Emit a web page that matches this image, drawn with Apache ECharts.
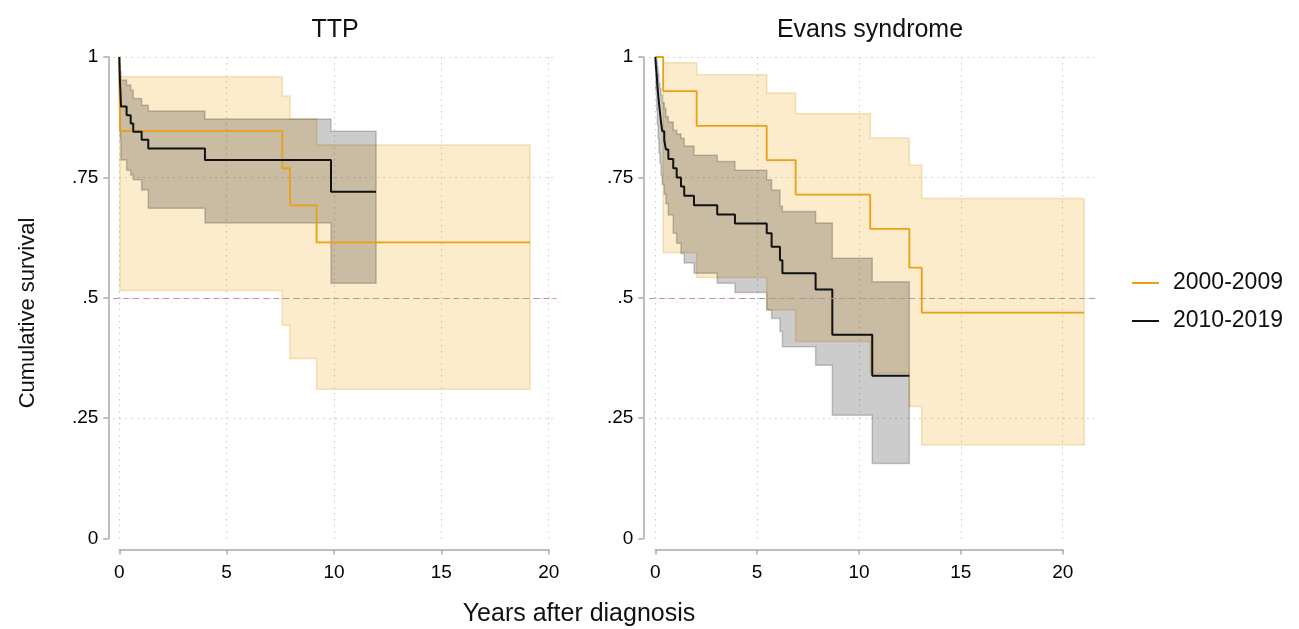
<!DOCTYPE html>
<html>
<head>
<meta charset="utf-8">
<script src="https://cdn.jsdelivr.net/npm/echarts@6/dist/echarts.min.js"></script>
<style>
  html, body { margin: 0; padding: 0; background: #fff; }
  #chart { width: 1299px; height: 629px; }
</style>
</head>
<body>
<div id="chart"></div>
<script>
const panelTitles = ['TTP', 'Evans syndrome'];
const seriesNames = ['2000-2009', '2010-2019'];
const xTicks = [0, 5, 10, 15, 20];
const yTicks = [0, 0.25, 0.5, 0.75, 1];
const yTickLabels = ['0', '.25', '.5', '.75', '1'];
const refLine = 0.5;

// Kaplan-Meier steps: [years, survival]
const ttpEarly = [[0, 1], [0.03, 0.846], [7.59, 0.769], [7.95, 0.692], [9.19, 0.615], [19.13, 0.615]];
const ttpLate = [[0, 1], [0.01, 0.983], [0.02, 0.966], [0.03, 0.948], [0.05, 0.931], [0.08, 0.897],
  [0.34, 0.879], [0.53, 0.862], [0.65, 0.845], [1.04, 0.828], [1.35, 0.810], [3.99, 0.786],
  [9.86, 0.72], [11.96, 0.72]];
const evansEarly = [[0, 1], [0.39, 0.929], [2.03, 0.857], [5.47, 0.786], [6.89, 0.714],
  [10.55, 0.643], [12.47, 0.5625], [13.08, 0.469], [21.05, 0.469]];
const evansLate = [[0, 1], [0.03, 0.981], [0.07, 0.962], [0.10, 0.942], [0.14, 0.923], [0.18, 0.904],
  [0.23, 0.885], [0.28, 0.865], [0.34, 0.846], [0.44, 0.827], [0.52, 0.808], [0.64, 0.788],
  [0.88, 0.769], [1.05, 0.75], [1.26, 0.731], [1.42, 0.712], [1.90, 0.692], [3.04, 0.673],
  [3.91, 0.654], [5.47, 0.634], [5.71, 0.606], [6.12, 0.578], [6.24, 0.551], [7.87, 0.517],
  [8.69, 0.423], [10.65, 0.338], [12.47, 0.338]];

// confidence bands: [years, lower, upper]
const ttpEarlyCI = [[0, 1, 1], [0.03, 0.515, 0.959], [7.59, 0.443, 0.919], [7.95, 0.374, 0.871],
  [9.19, 0.31, 0.817], [19.13, 0.31, 0.817]];
const ttpLateCI = [[0, 1, 1], [0.01, 0.9, 0.999], [0.02, 0.87, 0.995], [0.03, 0.85, 0.985],
  [0.05, 0.83, 0.97], [0.08, 0.786, 0.952], [0.34, 0.765, 0.942], [0.53, 0.755, 0.931],
  [0.65, 0.745, 0.914], [1.04, 0.724, 0.900], [1.35, 0.686, 0.888], [3.99, 0.655, 0.871],
  [9.86, 0.530, 0.846], [11.96, 0.530, 0.846]];
const evansEarlyCI = [[0, 1, 1], [0.39, 0.594, 0.988], [2.03, 0.542, 0.963], [5.47, 0.4745, 0.925],
  [6.89, 0.409, 0.882], [10.55, 0.343, 0.832], [12.47, 0.274, 0.775], [13.08, 0.194, 0.706],
  [21.05, 0.194, 0.706]];
const evansLateCI = [[0, 1, 1], [0.03, 0.93, 0.998], [0.07, 0.89, 0.99], [0.10, 0.86, 0.98],
  [0.14, 0.83, 0.965], [0.18, 0.80, 0.945], [0.23, 0.78, 0.935], [0.28, 0.755, 0.921],
  [0.34, 0.735, 0.905], [0.44, 0.715, 0.893], [0.52, 0.695, 0.876], [0.64, 0.672, 0.865],
  [0.88, 0.634, 0.848], [1.05, 0.613, 0.840], [1.26, 0.592, 0.831], [1.42, 0.572, 0.815],
  [1.90, 0.551, 0.796], [3.04, 0.530, 0.783], [3.91, 0.511, 0.765], [5.47, 0.4745, 0.745],
  [5.71, 0.457, 0.724], [6.12, 0.43, 0.69], [6.24, 0.398, 0.679], [7.87, 0.36, 0.655],
  [8.69, 0.256, 0.582], [10.65, 0.156, 0.533], [12.47, 0.156, 0.533]];

const panels = [
  { lines: [ttpEarly, ttpLate], bands: [ttpEarlyCI, ttpLateCI], x0: 119.3, x20: 548.7, xmin: -0.28, xmax: 20.35, yOff: 11 },
  { lines: [evansEarly, evansLate], bands: [evansEarlyCI, evansLateCI], x0: 655.3, x20: 1062.7, xmin: -0.3, xmax: 21.75, yOff: 12 }
];

const FONT = "'Liberation Sans', Arial, sans-serif";
const TOP = 57, HEIGHT = 481.5;
const lineColors = ['#eaa012', '#111111'];
const bandFill = ['rgba(240,160,0,0.2)', 'rgba(0,0,0,0.2)'];
const bandStroke = ['rgba(215,165,60,0.3)', 'rgba(0,0,0,0.2)'];
const gridColor = '#c8c8c8';
const axisColor = '#a8a8a8';

const chart = echarts.init(document.getElementById('chart'));

function bandSeries(rows, axisIndex, fill, stroke) {
  return {
    type: 'custom',
    name: 'ci',
    xAxisIndex: axisIndex,
    yAxisIndex: axisIndex,
    silent: true,
    data: [[rows[0][0], rows[0][1]]],
    renderItem: function (params, api) {
      const pts = [];
      for (let i = 0; i < rows.length - 1; i++) {
        pts.push(api.coord([rows[i][0], rows[i][2]]), api.coord([rows[i + 1][0], rows[i][2]]));
      }
      for (let i = rows.length - 2; i >= 0; i--) {
        pts.push(api.coord([rows[i + 1][0], rows[i][1]]), api.coord([rows[i][0], rows[i][1]]));
      }
      return { type: 'polygon', shape: { points: pts }, style: { fill: fill, stroke: stroke, lineWidth: 1.5 } };
    }
  };
}

const grid = [], xAxis = [], yAxis = [], bands = [], lines = [];

panels.forEach(function (p, k) {
  const ppy = (p.x20 - p.x0) / (xTicks[xTicks.length - 1] - xTicks[0]);
  const axisIdx = 2 * k, dataIdx = 2 * k + 1;

  // axis grid: exactly 0-20 / 0-1, axis lines pushed outward
  grid.push({ left: p.x0, top: TOP, width: p.x20 - p.x0, height: HEIGHT });
  xAxis.push({
    gridIndex: axisIdx, type: 'value',
    min: xTicks[0], max: xTicks[xTicks.length - 1], interval: xTicks[1] - xTicks[0],
    offset: 11,
    axisLine: { show: true, onZero: false, lineStyle: { color: axisColor, width: 1.5 } },
    axisTick: { show: true, length: 5, lineStyle: { color: axisColor, width: 1.5 } },
    axisLabel: { fontSize: 19, fontFamily: FONT, color: '#000', margin: 14 },
    splitLine: { show: true, lineStyle: { color: gridColor, width: 1, type: [1.5, 4.5] } }
  });
  yAxis.push({
    gridIndex: axisIdx, type: 'value',
    min: yTicks[0], max: yTicks[yTicks.length - 1], interval: yTicks[1] - yTicks[0],
    offset: p.yOff,
    axisLine: { show: true, onZero: false, lineStyle: { color: axisColor, width: 1.5 } },
    axisTick: { show: true, length: 5, lineStyle: { color: axisColor, width: 1.5 } },
    axisLabel: {
      fontSize: 19, fontFamily: FONT, color: '#000', margin: 10,
      formatter: function (v) { return yTickLabels[yTicks.indexOf(v)]; }
    },
    splitLine: { show: false }
  });

  // data grid: slightly wider plot region
  const left = p.x0 + p.xmin * ppy;
  grid.push({ left: left, top: TOP, width: (p.xmax - p.xmin) * ppy, height: HEIGHT });
  xAxis.push({ gridIndex: dataIdx, type: 'value', min: p.xmin, max: p.xmax, show: false });
  yAxis.push({
    gridIndex: dataIdx, type: 'value',
    min: yTicks[0], max: yTicks[yTicks.length - 1], interval: yTicks[1] - yTicks[0],
    axisLine: { show: false }, axisTick: { show: false }, axisLabel: { show: false },
    splitLine: { show: true, showMinLine: false, lineStyle: { color: gridColor, width: 1, type: [1.5, 4.5] } }
  });

  p.bands.forEach(function (rows, j) {
    bands.push(bandSeries(rows, dataIdx, bandFill[j], bandStroke[j]));
  });
  p.lines.forEach(function (pts, j) {
    const s = {
      type: 'line', name: seriesNames[j], xAxisIndex: dataIdx, yAxisIndex: dataIdx,
      data: pts, step: 'end', symbol: 'none', silent: true,
      lineStyle: { color: lineColors[j], width: j === 0 ? 1.8 : 2 },
      itemStyle: { color: lineColors[j] }
    };
    if (j === 0) {
      s.markLine = {
        silent: true, symbol: 'none', label: { show: false },
        lineStyle: { color: '#c98aa6', width: 1.2, type: [6, 4] },
        data: [{ yAxis: refLine }]
      };
    }
    lines.push(s);
  });
});

const option = {
  animation: false,
  backgroundColor: '#fff',
  grid: grid,
  xAxis: xAxis,
  yAxis: yAxis,
  legend: {
    data: seriesNames, orient: 'vertical', left: 1127, top: 266,
    icon: 'rect', itemWidth: 27, itemHeight: 2, itemGap: 14, selectedMode: false,
    textStyle: { fontSize: 23, lineHeight: 24, fontFamily: FONT, color: '#111', padding: [0, 0, 0, 9] }
  },
  graphic: [
    { type: 'text', x: 335, y: 30, style: { text: panelTitles[0], fontSize: 25, fontFamily: FONT, fill: '#111', align: 'center', verticalAlign: 'middle' } },
    { type: 'text', x: 870, y: 30, style: { text: panelTitles[1], fontSize: 25, fontFamily: FONT, fill: '#111', align: 'center', verticalAlign: 'middle' } },
    { type: 'text', x: 28, y: 313, rotation: Math.PI / 2, style: { text: 'Cumulative survival', fontSize: 22, fontFamily: FONT, fill: '#111', align: 'center', verticalAlign: 'middle' } },
    { type: 'text', x: 579, y: 614, style: { text: 'Years after diagnosis', fontSize: 25, fontFamily: FONT, fill: '#111', align: 'center', verticalAlign: 'middle' } }
  ],
  series: bands.concat(lines)
};

chart.setOption(option);
window.addEventListener('resize', () => chart.resize());
</script>
</body>
</html>
